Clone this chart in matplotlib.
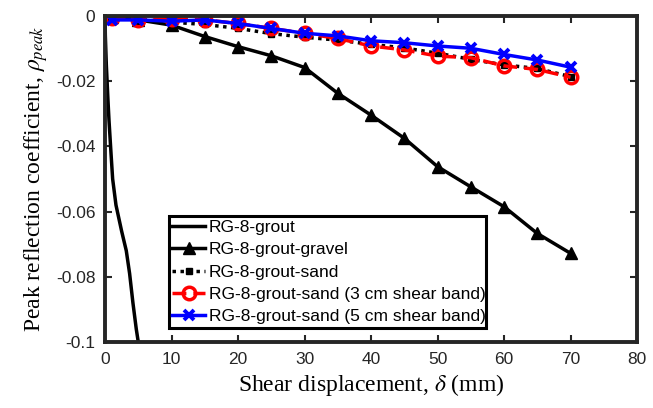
import matplotlib
matplotlib.use("Agg")
import matplotlib.pyplot as plt

# shear displacement (mm) for the marker series
disp = [1, 5, 10, 15, 20, 25, 30, 35, 40, 45, 50, 55, 60, 65, 70]

# RG-8-grout, traced curve (falls off the bottom of the axes)
grout_x = [0, 0.05, 0.2, 0.45, 0.6, 0.9, 1.15, 1.65, 2.5, 3.2, 3.7, 4.2, 4.7, 5.0]
grout_y = [0, -0.006, -0.015, -0.026, -0.032, -0.042, -0.050, -0.058, -0.066,
           -0.072, -0.079, -0.088, -0.096, -0.100]

gravel = [-0.0003, -0.0012, -0.0028, -0.0063, -0.0094, -0.0122, -0.0158, -0.0237,
          -0.0304, -0.0375, -0.0462, -0.0524, -0.0585, -0.0667, -0.0728]
sand = [-0.0005, -0.0010, -0.0019, -0.0026, -0.0038, -0.0054, -0.0065, -0.0074,
        -0.0087, -0.0098, -0.0114, -0.0133, -0.0150, -0.0161, -0.0186]
sand_3cm = [-0.0005, -0.0012, -0.0009, -0.0012, -0.0023, -0.0038, -0.0053, -0.0069,
            -0.0092, -0.0104, -0.0123, -0.0128, -0.0153, -0.0164, -0.0188]
sand_5cm = [-0.0012, -0.0012, -0.0016, -0.0012, -0.0023, -0.0038, -0.0053, -0.0061,
            -0.0076, -0.0082, -0.0092, -0.0099, -0.0118, -0.0135, -0.0157]

labels = ["RG-8-grout", "RG-8-grout-gravel", "RG-8-grout-sand",
          "RG-8-grout-sand (3 cm shear band)", "RG-8-grout-sand (5 cm shear band)"]
yticks = [0, -0.02, -0.04, -0.06, -0.08, -0.1]
ytick_labels = ["0", "-0.02", "-0.04", "-0.06", "-0.08", "-0.1"]
xticks = [0, 10, 20, 30, 40, 50, 60, 70, 80]

plt.rcParams["axes.unicode_minus"] = False
plt.rcParams["mathtext.fontset"] = "stix"
dark = "#262626"

fig = plt.figure(figsize=(6.53, 4.08), dpi=100)
ax = fig.add_axes([0.1608, 0.1618, 0.8147, 0.799])

ax.plot(grout_x, grout_y, color="black", lw=2.5, label=labels[0])
ax.plot(disp, gravel, color="black", lw=2.5, marker="^", ms=8.5, label=labels[1])
ax.plot(disp, sand, color="black", lw=2.5, ls=(0, (1, 1.3)), marker="s", ms=4,
        label=labels[2])
ax.plot(disp, sand_3cm, color="red", lw=2.5, ls=(0, (4, 2)), marker="o", ms=9,
        mfc="none", mew=2.5, label=labels[3])
ax.plot(disp, sand_5cm, color="blue", lw=2.5, marker="x", ms=6.5, mew=2.8,
        label=labels[4])

ax.set_xlim(0, 80)
ax.set_ylim(-0.1, 0)
ax.set_xticks(xticks)
ax.set_xticklabels([str(t) for t in xticks])
ax.set_yticks(yticks)
ax.set_yticklabels(ytick_labels)
ax.tick_params(direction="in", length=5, width=1.5, top=True, right=True,
               colors=dark, labelsize=12.5, pad=7)
for lab in ax.get_xticklabels() + ax.get_yticklabels():
    lab.set_fontfamily("Liberation Sans")
for sp in ax.spines.values():
    sp.set_linewidth(2.8)
    sp.set_color(dark)

ax.set_xlabel(r"Shear displacement, $\delta$ (mm)", fontsize=17,
              fontfamily="Liberation Serif", labelpad=4)
ax.set_ylabel(r"Peak reflection coefficient, $\rho_{peak}$", fontsize=17,
              fontfamily="Liberation Serif", labelpad=4)

leg = ax.legend(loc="lower left", bbox_to_anchor=(0.12, 0.043, 0.596, 0.356),
                mode="expand", fancybox=False, framealpha=1, edgecolor="black",
                prop={"family": "Liberation Sans", "size": 12.5},
                handlelength=1.9, handletextpad=0.2, labelspacing=0.42,
                borderpad=0.2, borderaxespad=0)
leg.get_frame().set_linewidth(2.2)

fig.savefig("out.png", dpi=100)
